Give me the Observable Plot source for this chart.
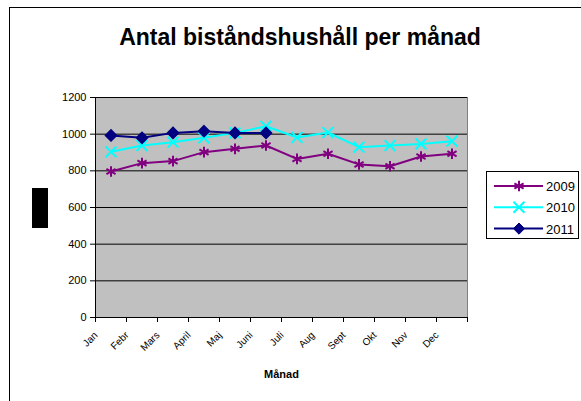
<!DOCTYPE html>
<html><head><meta charset="utf-8">
<script src="https://cdn.jsdelivr.net/npm/d3@7"></script>
<script src="https://cdn.jsdelivr.net/npm/@observablehq/plot@0.6"></script>
<style>
body{margin:0;background:#fff;font-family:"Liberation Sans",Arial,sans-serif;}
#wrap{position:relative;width:581px;height:401px;overflow:hidden;}
#border{position:absolute;left:9px;top:7px;width:600px;height:420px;border:1px solid #000;box-sizing:border-box;}
#title{position:absolute;left:0;top:24px;width:600px;text-align:center;font-weight:bold;font-size:23px;color:#000;}
#ybox{position:absolute;left:32px;top:188px;width:16px;height:40px;background:#000;}
#chart{position:absolute;left:0;top:0;}
#legend{position:absolute;left:0;top:0;}
</style></head><body>
<div id="wrap">
<div id="border"></div>
<div id="title">Antal biståndshushåll per månad</div>
<div id="ybox"></div>
<div id="chart"></div>
<div id="legend"></div>
</div>
<script>
const months = ["Jan","Febr","Mars","April","Maj","Juni","Juli","Aug","Sept","Okt","Nov","Dec"];
const years = ["2009","2010","2011"];
const v2009 = [796,842,853,902,920,938,865,893,835,825,878,893];
const v2010 = [904,938,956,980,1007,1043,982,1009,929,938,947,962];
const v2011 = [993,980,1007,1016,1007,1007];
const yTicks = [0,200,400,600,800,1000,1200];
const colors = ["#800080","#00FFFF","#000080"];
const symbols = ["asterisk","times","diamond2"];

const series = [v2009, v2010, v2011];
const data = [];
series.forEach((vals, s) => vals.forEach((v, i) => data.push({year: years[s], i: i + 0.5, month: months[i], value: v})));

const chart = Plot.plot({
  width: 581, height: 401,
  marginLeft: 95, marginRight: 114, marginTop: 97, marginBottom: 84,
  style: {fontFamily: "'Liberation Sans', Arial, sans-serif", fontSize: "11px", color: "#000", background: "transparent"},
  x: {type: "linear", domain: [0, months.length]},
  y: {domain: [0, 1200]},
  color: {domain: years, range: colors},
  symbol: {domain: years, range: symbols},
  marks: [
    Plot.frame({fill: "#C0C0C0", stroke: "#808080"}),
    Plot.gridY(yTicks.filter(d => d > 0), {stroke: "#000", strokeOpacity: 1, strokeWidth: 1}),
    Plot.ruleX([0], {stroke: "#000"}),
    Plot.ruleY([0], {stroke: "#000"}),
    Plot.axisY({ticks: yTicks, tickFormat: d => String(d), tickSize: 5, tickPadding: 4, label: null, fontSize: 11}),
    Plot.axisX({ticks: d3.range(months.length + 1), tickFormat: () => "", tickSize: 5, label: null}),
    Plot.axisX({ticks: months.map((m, i) => i + 0.5), tickFormat: d => months[Math.floor(d)], tickSize: 0, tickPadding: 16, tickRotate: -45, dx: -15, label: null, fontSize: 10}),
    Plot.text(["Månad"], {frameAnchor: "bottom", dy: 60, text: d => d, fontWeight: "bold", fontSize: 11}),
    Plot.line(data, {x: "i", y: "value", z: "year", stroke: "year", strokeWidth: 2}),
    Plot.dot(data.filter(d => d.year !== "2011"), {x: "i", y: "value", symbol: "year", stroke: "year", r: 5, strokeWidth: 2}),
    Plot.dot(data.filter(d => d.year === "2011"), {x: "i", y: "value", symbol: "year", fill: "year", stroke: "year", r: 5})
  ]
});
document.getElementById("chart").appendChild(chart);

// legend
const lg = d3.select("#legend").append("svg").attr("width", 581).attr("height", 401);
lg.append("rect").attr("x", 486.5).attr("y", 171.5).attr("width", 92).attr("height", 67).attr("fill", "#fff").attr("stroke", "#000");
years.forEach((y, k) => {
  const cy = 186 + k * 21.3;
  const g = lg.append("g");
  g.append("line").attr("x1", 494).attr("x2", 543).attr("y1", cy).attr("y2", cy).attr("stroke", colors[k]).attr("stroke-width", 2);
  const sym = [d3.symbolAsterisk, d3.symbolTimes, d3.symbolDiamond2][k];
  const p = g.append("path").attr("d", d3.symbol(sym, 80)()).attr("transform", `translate(519,${cy})`);
  if (k === 2) p.attr("fill", colors[k]).attr("stroke", colors[k]);
  else p.attr("fill", "none").attr("stroke", colors[k]).attr("stroke-width", 2);
  g.append("text").attr("x", 546).attr("y", cy + 5).attr("font-size", 13).attr("font-family", "'Liberation Sans', Arial, sans-serif").text(y);
});
</script>
</body></html>
